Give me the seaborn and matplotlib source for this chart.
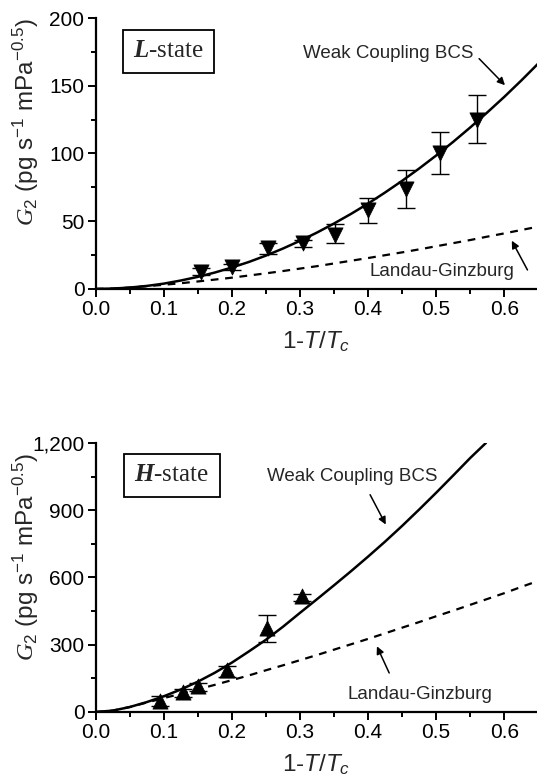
import numpy as np
import pandas as pd
import matplotlib
matplotlib.use("Agg")
import matplotlib.pyplot as plt
from matplotlib.ticker import MultipleLocator, FuncFormatter
import seaborn as sns

# ---------------- data ----------------
# L-state measurements
xL = [0.155, 0.200, 0.253, 0.305, 0.352, 0.400, 0.455, 0.505, 0.560]
yL = [12.8, 16.0, 30.0, 33.7, 40.0, 58.0, 74.0, 100.0, 125.0]
errL_lo = [2.5, 2.0, 4.0, 3.0, 6.0, 9.0, 14.5, 15.0, 17.0]
errL_hi = [2.5, 2.5, 4.0, 2.5, 8.0, 9.0, 14.0, 15.5, 18.0]

# H-state measurements
xH = [0.095, 0.128, 0.151, 0.193, 0.251, 0.303]
yH = [48, 88, 114, 186, 375, 516]
errH_lo = [23, 21, 22, 30, 64, 22]
errH_hi = [22, 15, 15, 18, 56, 12]

# theory curves
xs = [0.0, 0.025, 0.05, 0.075, 0.1, 0.125, 0.15, 0.175, 0.2, 0.225, 0.25,
      0.275, 0.3, 0.325, 0.35, 0.375, 0.4, 0.425, 0.45, 0.475, 0.5, 0.525,
      0.55, 0.575, 0.6, 0.625, 0.65]
bcsL = [0.0, 0.25, 1.0, 2.2, 3.9, 6.2, 8.9, 12.1, 15.8, 19.9, 24.6, 29.8,
        35.5, 41.6, 48.3, 55.4, 63.0, 71.2, 79.8, 88.9, 98.5, 108.6, 119.2,
        130.3, 141.8, 153.9, 166.5]
lgL = [0.0, 0.25, 1.0, 2.0, 3.05, 4.2, 5.5, 6.9, 8.3, 9.9, 11.5, 13.2, 15.0,
       16.8, 18.8, 20.8, 22.8, 24.9, 27.0, 29.2, 31.5, 33.8, 36.1, 38.6,
       41.0, 43.5, 46.0]

xsH = [0.0, 0.025, 0.05, 0.075, 0.1, 0.125, 0.15, 0.175, 0.2, 0.225, 0.25,
       0.275, 0.3, 0.325, 0.35, 0.375, 0.4, 0.425, 0.45, 0.475, 0.5, 0.525,
       0.55, 0.573]
bcsH = [0, 6, 22, 44, 70, 100, 135, 175, 220, 270, 322, 380, 442, 503, 565,
        628, 693, 760, 830, 903, 978, 1055, 1133, 1200]
lgH = [0, 6, 22, 42, 62, 81, 101, 121, 142, 163, 186, 208, 231, 254, 278,
       302, 326, 351, 376, 401, 427, 452, 478, 504, 530, 558, 585]

xticks = [0.0, 0.1, 0.2, 0.3, 0.4, 0.5, 0.6]
yticksL = [0, 50, 100, 150, 200]
yticksH = [0, 300, 600, 900, 1200]

# ---------------- style ----------------
sns.set_style("ticks")
plt.rcParams['font.family'] = ['Liberation Sans', 'DejaVu Sans']
plt.rcParams['mathtext.fontset'] = 'custom'
plt.rcParams['mathtext.rm'] = 'Liberation Sans'
plt.rcParams['mathtext.it'] = 'Liberation Sans:italic'
plt.rcParams['mathtext.cal'] = 'Liberation Serif:italic'
plt.rcParams['mathtext.bf'] = 'Liberation Serif:italic:bold'

fig = plt.figure(figsize=(5.37, 7.83), dpi=100)
ax1 = fig.add_axes([0.178, 0.631, 0.822, 0.346])
ax2 = fig.add_axes([0.178, 0.0907, 0.822, 0.3436])


def style_axis(ax, yticks, ymax, yminor, label_y):
    ax.set_xlim(0, 0.648)
    ax.set_ylim(0, ymax)
    ax.set_xticks(xticks)
    ax.set_yticks(yticks)
    ax.xaxis.set_minor_locator(MultipleLocator(0.05))
    ax.yaxis.set_minor_locator(MultipleLocator(yminor))
    ax.xaxis.set_major_formatter(FuncFormatter(lambda v, p: f"{v:.1f}"))
    ax.yaxis.set_major_formatter(FuncFormatter(lambda v, p: f"{int(round(v)):,}"))
    for s in ['top', 'right']:
        ax.spines[s].set_visible(False)
    for s in ['left', 'bottom']:
        ax.spines[s].set_linewidth(1.6)
        ax.spines[s].set_color('black')
    ax.tick_params(which='major', direction='out', length=6, width=1.4,
                   labelsize=15, colors='black', pad=2)
    ax.tick_params(which='minor', direction='out', length=3.5, width=1.4,
                   colors='black')
    ax.set_xlabel(r'1-$T$/$T_c$', fontsize=17.5, labelpad=7)
    ax.set_ylabel(r'$\mathcal{G}_{2}$ (pg s$^{-1}$ mPa$^{-0.5}$)', fontsize=17.5)
    ax.yaxis.set_label_coords(-0.124, label_y)
    ax.patch.set_alpha(0)


# ---------- top panel: L-state ----------
sns.lineplot(x=xs, y=bcsL, ax=ax1, color='black', lw=1.8, sort=False)
sns.lineplot(x=xs, y=lgL, ax=ax1, color='black', lw=1.6, sort=False,
             linestyle=(0, (3.5, 3)))
ax1.errorbar(xL, yL, yerr=[errL_lo, errL_hi], fmt='none', ecolor='black',
             elinewidth=1.0, capsize=6.5, capthick=1.0, zorder=3)
sns.scatterplot(x=xL, y=yL, ax=ax1, marker='v', s=120, color='black',
                edgecolor='black', linewidth=0.5, zorder=4)
style_axis(ax1, yticksL, 200, 25, 0.618)

ax1.text(0.107, 175.5, r'$\mathbf{L}$-state', fontsize=18,
         family=['Liberation Serif'], ha='center', va='center',
         bbox=dict(boxstyle='square,pad=0.42', fc='white', ec='black', lw=1.3))
ax1.text(0.43, 173.7, 'Weak Coupling BCS', fontsize=13.5, ha='center',
         va='center')
ax1.annotate('', xy=(0.601, 150.4), xytext=(0.563, 170),
             arrowprops=dict(arrowstyle='-|>', lw=1.1, color='black',
                             mutation_scale=11, shrinkA=0, shrinkB=0))
ax1.text(0.508, 12.8, 'Landau-Ginzburg', fontsize=13.5, ha='center',
         va='center')
ax1.annotate('', xy=(0.611, 35.6), xytext=(0.634, 14),
             arrowprops=dict(arrowstyle='-|>', lw=1.1, color='black',
                             mutation_scale=11, shrinkA=0, shrinkB=0))

# ---------- bottom panel: H-state ----------
sns.lineplot(x=xsH, y=bcsH, ax=ax2, color='black', lw=1.8, sort=False)
sns.lineplot(x=xs, y=lgH, ax=ax2, color='black', lw=1.6, sort=False,
             linestyle=(0, (3.5, 3)))
ax2.errorbar(xH, yH, yerr=[errH_lo, errH_hi], fmt='none', ecolor='black',
             elinewidth=1.0, capsize=6.5, capthick=1.0, zorder=3)
sns.scatterplot(x=xH, y=yH, ax=ax2, marker='^', s=120, color='black',
                edgecolor='black', linewidth=0.5, zorder=4)
style_axis(ax2, yticksH, 1200, 150, 0.575)

ax2.text(0.112, 1055, r'$\mathbf{H}$-state', fontsize=18,
         family=['Liberation Serif'], ha='center', va='center',
         bbox=dict(boxstyle='square,pad=0.42', fc='white', ec='black', lw=1.3))
ax2.text(0.377, 1051, 'Weak Coupling BCS', fontsize=13.5, ha='center',
         va='center')
ax2.annotate('', xy=(0.426, 836), xytext=(0.403, 969),
             arrowprops=dict(arrowstyle='-|>', lw=1.1, color='black',
                             mutation_scale=11, shrinkA=0, shrinkB=0))
ax2.text(0.476, 77, 'Landau-Ginzburg', fontsize=13.5, ha='center',
         va='center')
ax2.annotate('', xy=(0.413, 293), xytext=(0.431, 174),
             arrowprops=dict(arrowstyle='-|>', lw=1.1, color='black',
                             mutation_scale=11, shrinkA=0, shrinkB=0))

for ax in (ax1, ax2):
    leg = ax.get_legend()
    if leg is not None:
        leg.remove()

fig.savefig('out.png', dpi=100)
